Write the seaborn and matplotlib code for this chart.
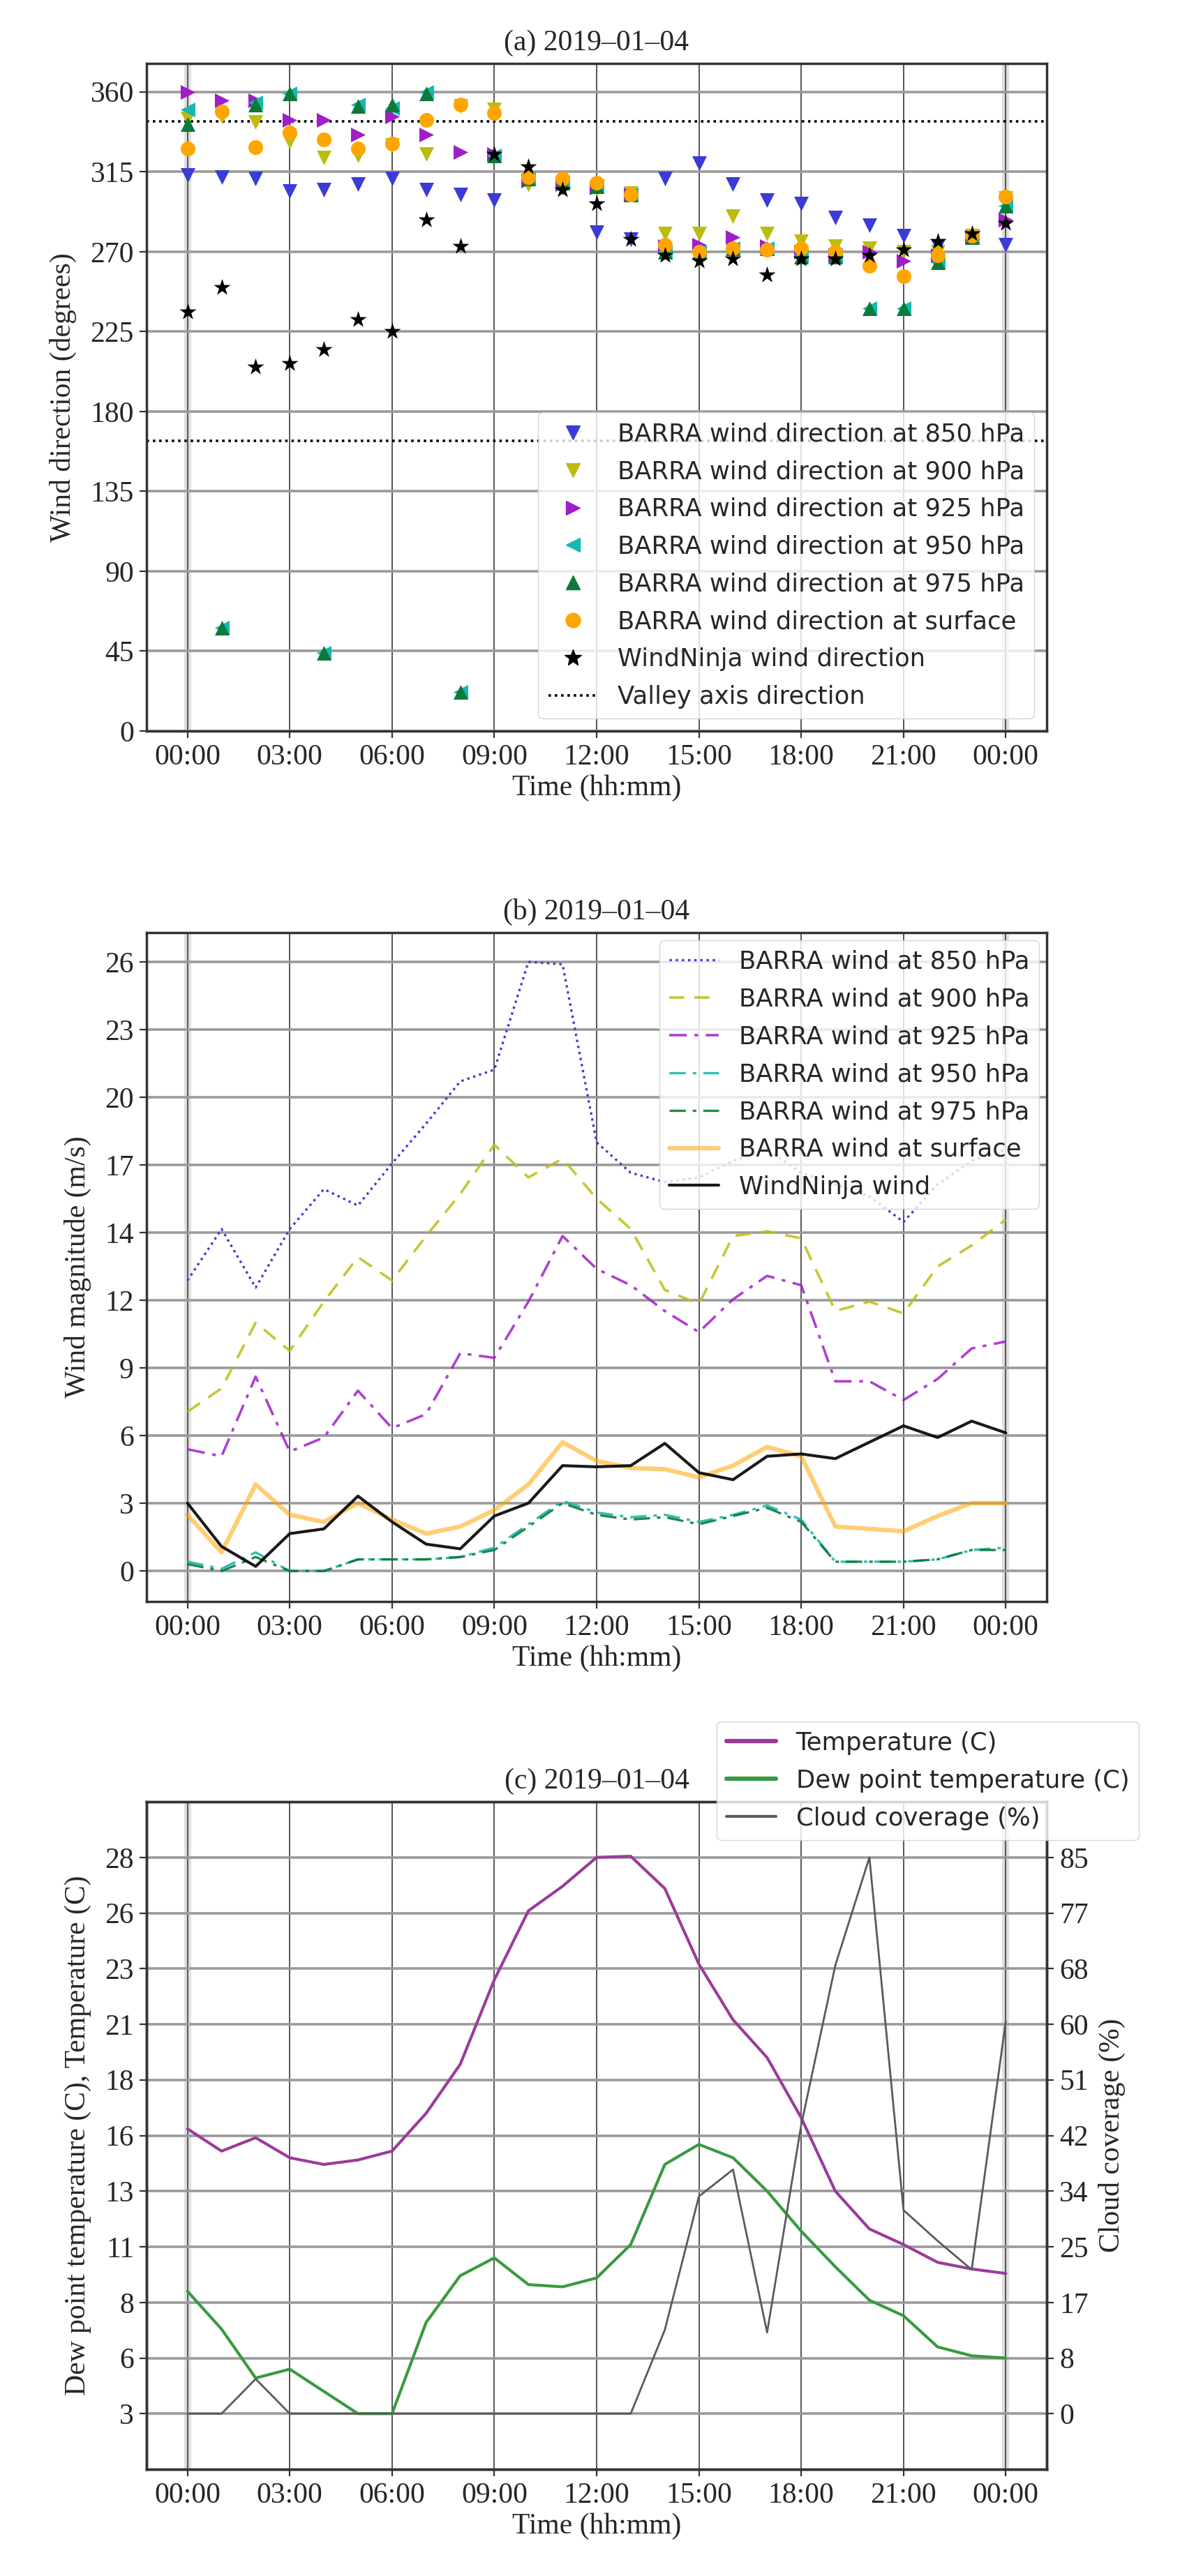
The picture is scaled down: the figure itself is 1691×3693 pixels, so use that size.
import matplotlib
matplotlib.use("Agg")
import matplotlib.pyplot as plt
import seaborn as sns
import pandas as pd
import numpy as np
from matplotlib.lines import Line2D

# ---------------- data ----------------
hours = list(range(25))
time_ticks = [0, 3, 6, 9, 12, 15, 18, 21, 24]
time_labels = ["00:00", "03:00", "06:00", "09:00", "12:00", "15:00", "18:00", "21:00", "00:00"]

# (a) wind direction (degrees)
dir_850 = [313, 312, 311, 304, 305, 308, 311, 305, 302, 299, 308, 306, 281, 277, 311, 320, 308, 299, 297, 289, 285, 279, 273, 278, 274]
dir_900 = [345, 346, 343, 332, 323, 324, 330, 325, 352, 350, 308, 307, 305, 303, 280, 280, 290, 280, 276, 273, 272, 270, 270, 279, 300]
dir_925 = [360, 355, 355, 344, 344, 336, 346, 336, 326, 325, 310, 308, 306, 302, 273, 274, 278, 273, 270, 268, 270, 265, 268, 278, 288]
dir_950 = [350, 58, 354, 359, 44, 353, 351, 360, 22, 324, 311, 309, 307, 302, 270, 270, 272, 272, 268, 268, 238, 238, 264, 278, 296]
dir_975 = [342, 58, 353, 359, 44, 352, 353, 359, 22, 324, 311, 309, 307, 302, 270, 270, 272, 272, 267, 267, 238, 238, 264, 278, 296]
dir_surface = [328, 349, 329, 337, 333, 328, 331, 344, 353, 348, 312, 311, 309, 302, 274, 270, 272, 271, 272, 270, 262, 256, 268, 279, 301]
dir_windninja = [236, 250, 205, 207, 215, 232, 225, 288, 273, 325, 318, 305, 297, 277, 268, 265, 266, 257, 266, 266, 268, 271, 276, 280, 286]
valley_axis = [343.5, 163.5]
dir_ticks = [0, 45, 90, 135, 180, 225, 270, 315, 360]
dir_tick_labels = ["0", "45", "90", "135", "180", "225", "270", "315", "360"]

# (b) wind magnitude (m/s)
spd_850 = [12.4, 14.6, 12.1, 14.6, 16.3, 15.6, 17.4, 19.1, 20.9, 21.4, 26.0, 25.9, 18.3, 17.0, 16.6, 16.8, 17.5, 18.0, 17.0, 16.5, 16.0, 14.9, 16.5, 17.5, 18.0]
spd_900 = [6.8, 7.8, 10.6, 9.4, 11.5, 13.4, 12.4, 14.3, 16.1, 18.2, 16.8, 17.6, 15.9, 14.6, 12.0, 11.4, 14.3, 14.5, 14.2, 11.1, 11.5, 11.0, 13.0, 13.9, 15.0]
spd_925 = [5.2, 4.9, 8.3, 5.1, 5.7, 7.7, 6.1, 6.7, 9.3, 9.1, 11.5, 14.3, 12.9, 12.2, 11.1, 10.2, 11.6, 12.6, 12.2, 8.1, 8.1, 7.3, 8.2, 9.5, 9.8]
spd_950 = [0.4, 0.1, 0.8, 0.0, 0.0, 0.5, 0.5, 0.5, 0.6, 1.0, 2.0, 3.0, 2.5, 2.3, 2.4, 2.1, 2.4, 2.8, 2.2, 0.4, 0.4, 0.4, 0.5, 0.9, 1.0]
spd_975 = [0.3, 0.0, 0.6, 0.0, 0.0, 0.5, 0.5, 0.5, 0.6, 0.9, 1.9, 2.9, 2.4, 2.2, 2.3, 2.0, 2.35, 2.7, 2.1, 0.4, 0.4, 0.4, 0.5, 0.9, 0.9]
spd_surface = [2.4, 0.8, 3.7, 2.4, 2.1, 2.9, 2.2, 1.6, 1.9, 2.6, 3.7, 5.5, 4.7, 4.4, 4.35, 4.0, 4.5, 5.3, 4.9, 1.9, 1.8, 1.7, 2.35, 2.9, 2.9]
spd_windninja = [2.9, 1.05, 0.2, 1.6, 1.8, 3.2, 2.1, 1.15, 0.95, 2.35, 2.9, 4.5, 4.45, 4.5, 5.45, 4.2, 3.9, 4.9, 5.0, 4.8, 5.5, 6.2, 5.7, 6.4, 5.9]
spd_ticks = [0.0, 2.889, 5.778, 8.667, 11.556, 14.444, 17.333, 20.222, 23.111, 26.0]
spd_tick_labels = ["0", "3", "6", "9", "12", "14", "17", "20", "23", "26"]

# (c) temperature, dew point, cloud coverage
temperature = [15.8, 14.8, 15.4, 14.5, 14.2, 14.4, 14.8, 16.5, 18.7, 22.5, 25.6, 26.7, 28.0, 28.05, 26.6, 23.2, 20.7, 19.0, 16.3, 13.0, 11.3, 10.6, 9.8, 9.5, 9.3]
dew_point = [8.5, 6.8, 4.6, 5.0, 4.0, 3.0, 3.0, 7.1, 9.2, 10.0, 8.8, 8.7, 9.1, 10.6, 14.2, 15.1, 14.5, 13.0, 11.2, 9.6, 8.1, 7.4, 6.0, 5.6, 5.5]
cloud = [0, 0, 5.3, 0, 0, 0, 0, 0, 0, 0, 0, 0, 0, 0, 12.8, 33.2, 37.3, 12.4, 44.1, 68.5, 85.0, 31.1, 26.4, 22.0, 60.0]
temp_ticks = [3.0, 5.5, 8.0, 10.5, 13.0, 15.5, 18.0, 20.5, 23.0, 25.5, 28.0]
temp_tick_labels = ["3", "6", "8", "11", "13", "16", "18", "21", "23", "26", "28"]
cloud_ticks = [0.0, 8.5, 17.0, 25.5, 34.0, 42.5, 51.0, 59.5, 68.0, 76.5, 85.0]
cloud_tick_labels = ["0", "8", "17", "25", "34", "42", "51", "60", "68", "77", "85"]

# ---------------- style ----------------
sns.set_theme(style="white")
plt.rcParams["font.family"] = ["Liberation Serif", "DejaVu Serif"]
plt.rcParams["axes.unicode_minus"] = False

FS = 30
LEG = {"family": "DejaVu Sans", "size": 25.5}
LSP = 0.56

C850 = "#3b3bd6"
C900 = "#bcbc10"
C925 = "#a01ec8"
C950 = "#18b8b0"
C975 = "#0b7a3a"
CSUR = "#ffa500"
CTEMP = "#9a3c9a"
CDEW = "#389a3f"
CCLOUD = "#5a5a5a"

W, H = 1691, 3693
fig = plt.figure(figsize=(W / 100, H / 100), dpi=100)

def add_ax(top_px, bottom_px):
    return fig.add_axes([210 / W, 1 - bottom_px / H, 1290 / W, (bottom_px - top_px) / H])

def style_ax(ax):
    ax.set_axisbelow(True)
    ax.grid(True, axis="y", color="#9a9a9a", lw=2.6)
    ax.grid(True, axis="x", color="#555555", lw=1.4)
    for t in (time_ticks[0], time_ticks[-1]):
        ax.axvline(t, color="#dedede", lw=7, zorder=0.3)
    for s in ax.spines.values():
        s.set_visible(True)
        s.set_color("#333333")
        s.set_linewidth(2.5)
    ax.tick_params(axis="both", which="major", direction="out", length=7, width=1.6,
                   color="#333333", labelsize=FS, bottom=True, left=True, pad=6)
    ax.set_xticks(time_ticks)
    ax.set_xticklabels(time_labels)
    ax.set_xlim(-1.2, 25.2)
    ax.set_xlabel("Time (hh:mm)", fontsize=FS)

# ---------------- (a) ----------------
ax = add_ax(91, 1048)
style_ax(ax)
series_a = [
    (dir_850, "v", C850, "BARRA wind direction at 850 hPa"),
    (dir_900, "v", C900, "BARRA wind direction at 900 hPa"),
    (dir_925, ">", C925, "BARRA wind direction at 925 hPa"),
    (dir_950, "<", C950, "BARRA wind direction at 950 hPa"),
    (dir_975, "^", C975, "BARRA wind direction at 975 hPa"),
    (dir_surface, "o", CSUR, "BARRA wind direction at surface"),
    (dir_windninja, "*", "black", "WindNinja wind direction"),
]
handles = []
for vals, mk, col, lab in series_a:
    df = pd.DataFrame({"hour": hours, "val": vals})
    sns.scatterplot(data=df, x="hour", y="val", marker=mk, color=col, s=230 if mk != "*" else 330,
                    linewidth=0, ax=ax, legend=False, zorder=3)
    handles.append(Line2D([], [], ls="none", marker=mk, color=col, markersize=15 if mk != "*" else 18))
for v in valley_axis:
    ax.axhline(v, color="black", ls=(0, (1, 1.5)), lw=2.6, zorder=2)
handles.append(Line2D([], [], color="black", ls=(0, (1, 1.5)), lw=2.6))
labels = [s[3] for s in series_a] + ["Valley axis direction"]
ax.set_ylim(0, 376)
ax.set_yticks(dir_ticks)
ax.set_yticklabels(dir_tick_labels)
ax.set_ylabel("Wind direction (degrees)", fontsize=FS, labelpad=14)
ax.set_title("(a) 2019–01–04", fontsize=FS, pad=14)
ax.legend(handles, labels, loc="lower right", prop=LEG, labelspacing=LSP, borderaxespad=0.5)

# ---------------- (b) ----------------
ax = add_ax(1337, 2296)
style_ax(ax)
series_b = [
    (spd_850, C850, ":", 2.4, 1.0, "BARRA wind at 850 hPa"),
    (spd_900, C900, (0, (6, 4)), 2.6, 0.85, "BARRA wind at 900 hPa"),
    (spd_925, C925, (0, (7, 3, 1.5, 3)), 2.6, 0.85, "BARRA wind at 925 hPa"),
    (spd_950, C950, (0, (7, 3, 1.5, 3)), 2.4, 0.9, "BARRA wind at 950 hPa"),
    (spd_975, C975, (0, (7, 3, 1.5, 3)), 2.4, 0.9, "BARRA wind at 975 hPa"),
    (spd_surface, CSUR, "-", 4.5, 0.55, "BARRA wind at surface"),
    (spd_windninja, "black", "-", 3.0, 0.9, "WindNinja wind"),
]
handles = []
for vals, col, ls, lw, al, lab in series_b:
    df = pd.DataFrame({"hour": hours, "val": vals})
    sns.lineplot(data=df, x="hour", y="val", color=col, linestyle=ls, lw=lw, alpha=al, ax=ax)
    handles.append(Line2D([], [], color=col, ls=ls, lw=lw, alpha=al))
ax.set_ylim(-1.3, 27.25)
ax.set_yticks(spd_ticks)
ax.set_yticklabels(spd_tick_labels)
ax.set_ylabel("Wind magnitude (m/s)", fontsize=FS, labelpad=14)
ax.set_xlabel("Time (hh:mm)", fontsize=FS)
ax.set_title("(b) 2019–01–04", fontsize=FS, pad=14)
ax.legend(handles, [s[5] for s in series_b], loc="upper right", prop=LEG, labelspacing=LSP,
          borderaxespad=0.3)

# ---------------- (c) ----------------
ax = add_ax(2583, 3540)
style_ax(ax)
df = pd.DataFrame({"hour": hours, "temp": temperature, "dew": dew_point, "cloud": cloud})
sns.lineplot(data=df, x="hour", y="temp", color=CTEMP, lw=3.0, ax=ax)
sns.lineplot(data=df, x="hour", y="dew", color=CDEW, lw=3.0, ax=ax)
ax.set_ylim(0.5, 30.5)
ax.set_yticks(temp_ticks)
ax.set_yticklabels(temp_tick_labels)
ax.set_ylabel("Dew point temperature (C), Temperature (C)", fontsize=FS, labelpad=14)
ax.set_xlabel("Time (hh:mm)", fontsize=FS)
ax.set_title("(c) 2019–01–04", fontsize=FS, pad=14)

ax2 = ax.twinx()
sns.lineplot(data=df, x="hour", y="cloud", color=CCLOUD, lw=2.0, ax=ax2)
ax2.set_ylim(-8.5, 93.5)
ax2.set_yticks(cloud_ticks)
ax2.set_yticklabels(cloud_tick_labels)
ax2.grid(False)
ax2.tick_params(axis="y", direction="out", length=7, width=1.6, color="#333333",
                labelsize=FS, right=True, labelright=True, pad=6)
for s in ax2.spines.values():
    s.set_color("#333333")
    s.set_linewidth(2.5)
ax2.set_ylabel("Cloud coverage (%)", fontsize=FS, labelpad=10)
ax2.set_xlim(-1.2, 25.2)

h_c = [Line2D([], [], color=CTEMP, lw=4.5),
       Line2D([], [], color=CDEW, lw=4.5),
       Line2D([], [], color=CCLOUD, lw=3.0)]
l_c = ["Temperature (C)", "Dew point temperature (C)", "Cloud coverage (%)"]
fig.legend(h_c, l_c, loc="upper right", bbox_to_anchor=(1650 / W, 1 - 2450 / H),
           prop=LEG, labelspacing=LSP)

fig.savefig("out.png", dpi=100)
